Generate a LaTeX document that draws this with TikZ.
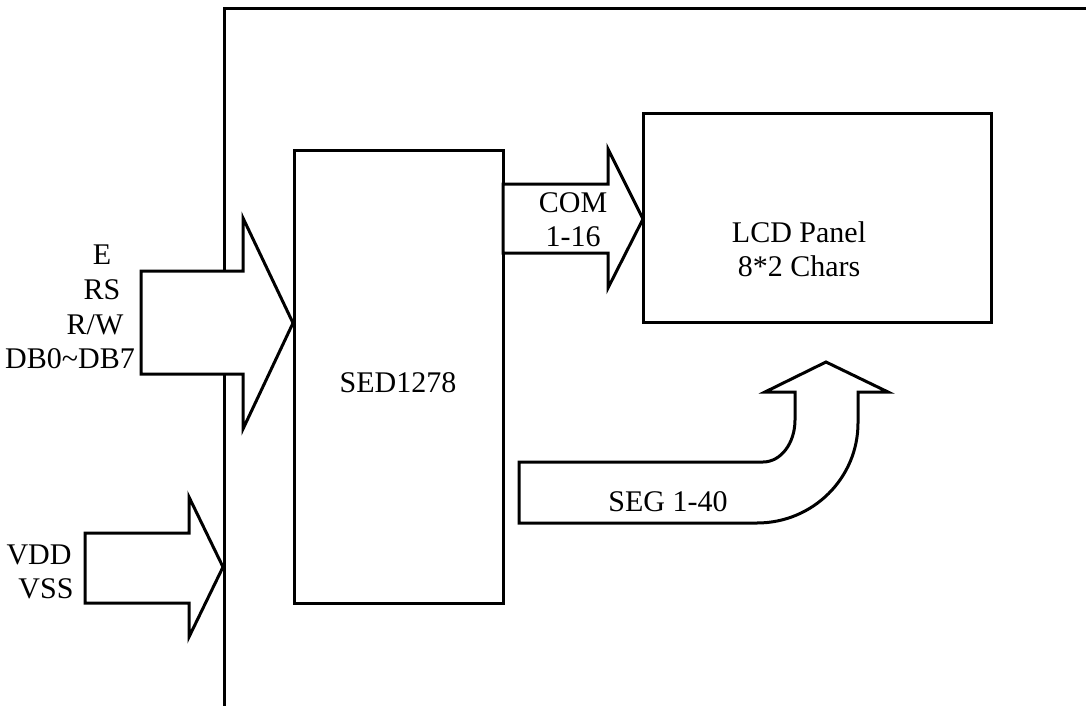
\documentclass[tikz,border=0pt]{standalone}
\usepackage{fontspec}
\setmainfont{Liberation Serif}
\usepackage{tikz}
\tikzset{l/.style={font=\fontsize{30}{30}\selectfont,text height=20pt,text depth=0pt,inner sep=0pt}}
\tikzset{blk/.style={draw,line width=3pt,fill=white,inner sep=0pt}}
\tikzset{bus/.style={draw,line width=3pt,fill=white,line join=miter}}

\begin{document}
\begin{tikzpicture}[x=1pt,y=-1pt]
        \useasboundingbox (0,0) rectangle (1086,706);
        % outer frame
        \coordinate (f1) at (224,706);
        \coordinate (f2) at (224,9);
        \coordinate (f3) at (1092,9);
        \draw[line width=3pt] (f1) -- (f2) -- (f3);
        % blocks
        \node[blk,minimum width=209pt,minimum height=453pt] (sed) at (398.5,376.5) {};
        \node[blk,minimum width=348pt,minimum height=208pt] (lcd) at (817,218) {};
        \node[l] (sedtxt) at (398,382) {SED1278};
        \node[l] (lcd1) at (799,232) {LCD Panel};
        \node[l] (lcd2) at (799,266) {8*2 Chars};
        % bus arrows
        \draw[bus] (141,271) -- (243,271) -- (243,218) -- (293,323)
          -- (243,429) -- (243,374) -- (141,374) -- cycle;
        \draw[bus] (85,533) -- (189,533) -- (189,497) -- (223,567)
          -- (189,637) -- (189,603) -- (85,603) -- cycle;
        \draw[bus] (503,184) -- (608,184) -- (608,149) -- (643,219)
          -- (608,288) -- (608,253) -- (503,253) -- cycle;
        \draw[bus] (519,462) -- (763,462) .. controls (781,462) and (795,443) .. (795,420)
          -- (795,392) -- (765,392) -- (826,362) -- (888,392) -- (858,392)
          -- (858,423) .. controls (858,478) and (813,523) .. (757,523)
          -- (519,523) -- cycle;
        % signal names
        \node[l] (sigE) at (102,254) {E};
        \node[l] (sigRS) at (102,289) {RS};
        \node[l] (sigRW) at (95,324) {R/W};
        \node[l] (sigDB) at (70,358) {DB0\char`~DB7};
        \node[l] (pwr1) at (39,554) {VDD};
        \node[l] (pwr2) at (46,588) {VSS};
        \node[l] (com1) at (573,202) {COM};
        \node[l] (com2) at (573,236) {1-16};
        \node[l] (seg) at (668,501) {SEG 1-40};
      \end{tikzpicture}
\end{document}
